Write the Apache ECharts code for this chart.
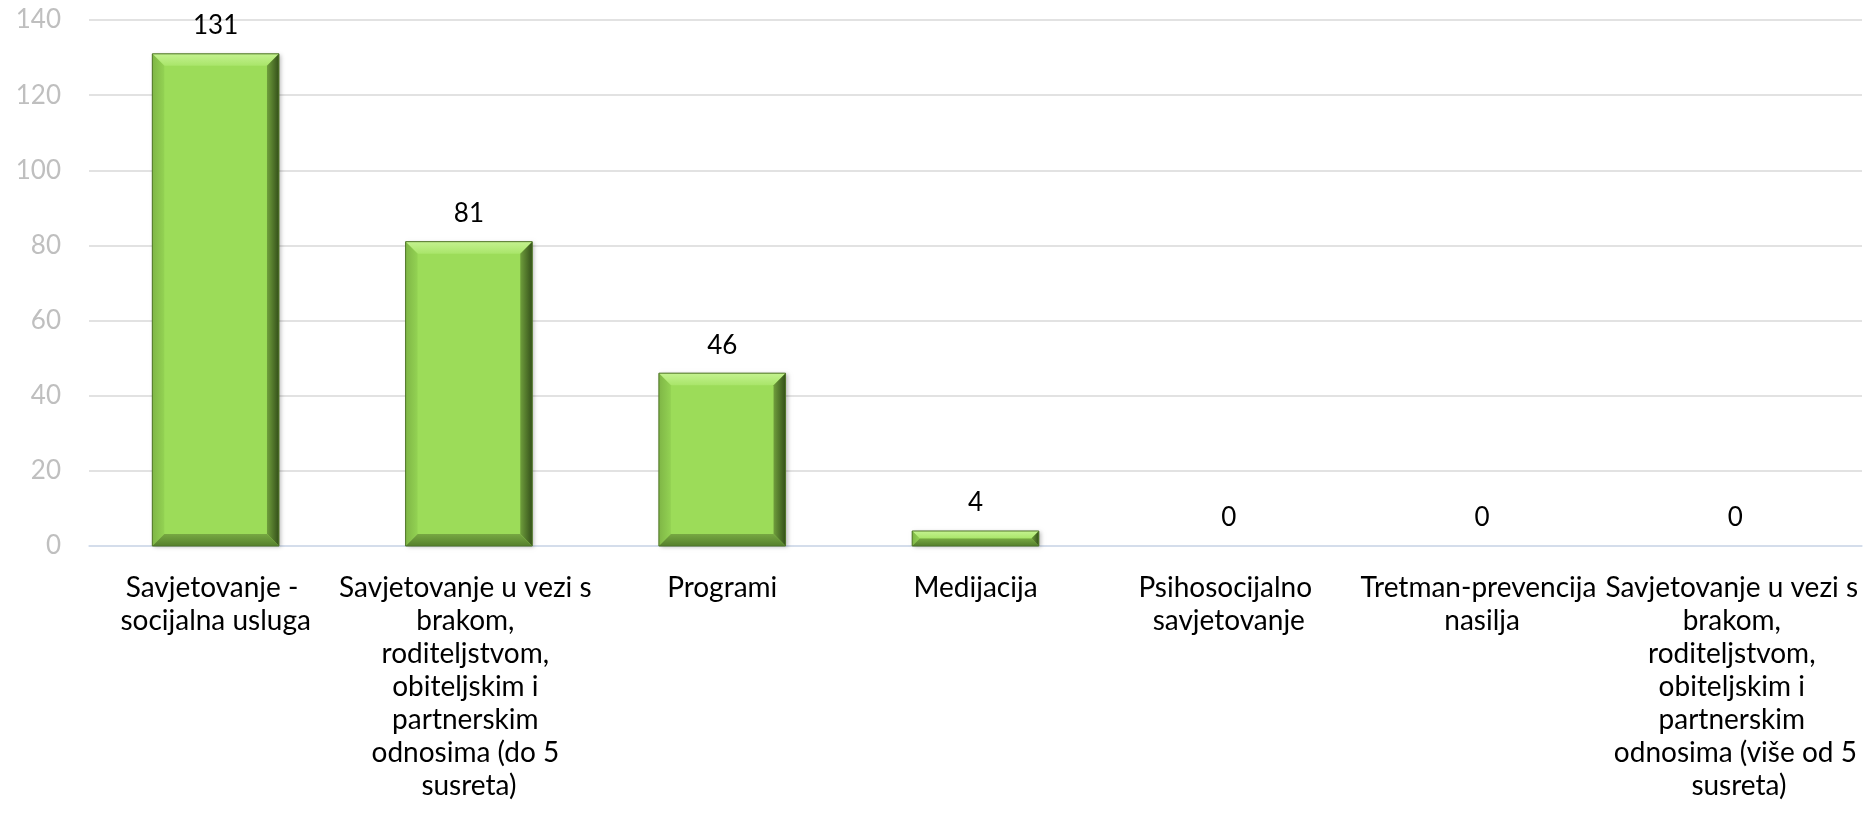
<!DOCTYPE html>
<html>
<head>
<meta charset="utf-8">
<script src="https://cdn.jsdelivr.net/npm/echarts@6/dist/echarts.min.js"></script>
<style>
html,body{margin:0;padding:0;background:#fff;}
#chart{width:1874px;height:819px;}
</style>
</head>
<body>
<div id="chart"></div>
<script>
const categories = [
  "Savjetovanje - socijalna usluga",
  "Savjetovanje u vezi s brakom, roditeljstvom, obiteljskim i partnerskim odnosima (do 5 susreta)",
  "Programi",
  "Medijacija",
  "Psihosocijalno savjetovanje",
  "Tretman-prevencija nasilja",
  "Savjetovanje u vezi s brakom, roditeljstvom, obiteljskim i partnerskim odnosima (više od 5 susreta)"
];
const values = [131, 81, 46, 4, 0, 0, 0];
const yTicks = [0, 20, 40, 60, 80, 100, 120, 140];

const FONT = "Lato, 'Open Sans', sans-serif";

function renderItem(params, api) {
  const idx = api.value(0);
  const v = api.value(1);
  const top = api.coord([idx, v]);
  const base = api.coord([idx, 0]);
  const w = api.size([1, 0])[0] * 0.5;
  const x0 = top[0] - w / 2, x1 = top[0] + w / 2;
  const y0 = top[1], y1 = base[1];
  const h = y1 - y0;
  const children = [];
  if (h > 0.5) {
    const b = Math.min(12, h / 2, w / 2);
    children.push({ type: 'rect', shape: { x: x0, y: y0, width: w, height: h },
      style: { fill: '#9cdc59', shadowBlur: 4, shadowOffsetX: 2, shadowOffsetY: 1, shadowColor: 'rgba(0,0,0,0.25)' } });
    children.push({ type: 'polygon', shape: { points: [[x0, y0], [x1, y0], [x1 - b, y0 + b], [x0 + b, y0 + b]] },
      style: { fill: new echarts.graphic.LinearGradient(0, 0, 0, 1, [{ offset: 0, color: '#c4f290' }, { offset: 1, color: '#a9e56a' }]) } });
    children.push({ type: 'polygon', shape: { points: [[x0, y0], [x0 + b, y0 + b], [x0 + b, y1 - b], [x0, y1]] },
      style: { fill: new echarts.graphic.LinearGradient(0, 0, 1, 0, [{ offset: 0, color: '#7fb646' }, { offset: 1, color: '#93d253' }]) } });
    children.push({ type: 'polygon', shape: { points: [[x1, y0], [x1, y1], [x1 - b, y1 - b], [x1 - b, y0 + b]] },
      style: { fill: new echarts.graphic.LinearGradient(0, 0, 1, 0, [{ offset: 0, color: '#6f9e3c' }, { offset: 1, color: '#34501a' }]) } });
    children.push({ type: 'polygon', shape: { points: [[x0, y1], [x0 + b, y1 - b], [x1 - b, y1 - b], [x1, y1]] },
      style: { fill: new echarts.graphic.LinearGradient(0, 0, 0, 1, [{ offset: 0, color: '#77a842' }, { offset: 1, color: '#55802c' }]) } });
    children.push({ type: 'rect', shape: { x: x0, y: y0, width: w, height: h },
      style: { fill: 'none', stroke: '#4f7428', lineWidth: 1 } });
  }
  children.push({ type: 'text', x: top[0], y: y0 - 28,
    style: { text: String(v), fill: '#000', font: '26px ' + FONT, align: 'center', verticalAlign: 'middle' } });
  return { type: 'group', children: children };
}

const chart = echarts.init(document.getElementById('chart'), null, { renderer: 'canvas' });
chart.setOption({
  animation: false,
  backgroundColor: '#fff',
  grid: { left: 89, right: 12, top: 20, bottom: 273, containLabel: false },
  xAxis: {
    type: 'category',
    data: categories,
    axisLine: { show: true, lineStyle: { color: '#d0dcee', width: 1.5 } },
    axisTick: { show: false },
    axisLabel: {
      interval: 0, margin: 25, color: '#000', fontSize: 28, fontFamily: FONT,
      lineHeight: 33, width: 262, overflow: 'break', align: 'center'
    }
  },
  yAxis: {
    type: 'value', min: yTicks[0], max: yTicks[yTicks.length - 1], interval: 20,
    axisLine: { show: false }, axisTick: { show: false },
    axisLabel: { color: '#bfbfbf', fontSize: 26, fontFamily: FONT, margin: 28 },
    splitLine: { lineStyle: { color: '#d9d9d9', width: 1.5 } }
  },
  series: [{
    type: 'custom',
    renderItem: renderItem,
    encode: { x: 0, y: 1 },
    data: values.map((v, i) => [i, v])
  }]
});
</script>
</body>
</html>
